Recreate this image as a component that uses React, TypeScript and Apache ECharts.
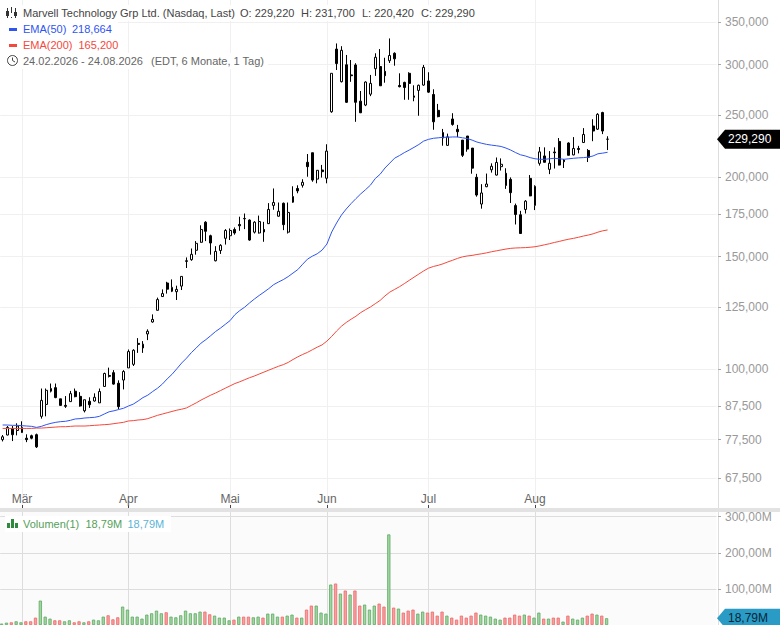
import React, { useEffect, useRef } from "react";
import * as echarts from "echarts";

const FONT = "'Liberation Sans', Arial, sans-serif";

const dates = [
  "24.02.2026","25.02.2026","26.02.2026","27.02.2026",
  "02.03.2026","03.03.2026","04.03.2026","05.03.2026","06.03.2026","09.03.2026","10.03.2026","11.03.2026","12.03.2026","13.03.2026",
  "16.03.2026","17.03.2026","18.03.2026","19.03.2026","20.03.2026","23.03.2026","24.03.2026","25.03.2026","26.03.2026","27.03.2026","30.03.2026","31.03.2026",
  "01.04.2026","02.04.2026","06.04.2026","07.04.2026","08.04.2026","09.04.2026","10.04.2026","13.04.2026","14.04.2026","15.04.2026","16.04.2026","17.04.2026",
  "20.04.2026","21.04.2026","22.04.2026","23.04.2026","24.04.2026","27.04.2026","28.04.2026","29.04.2026","30.04.2026",
  "01.05.2026","04.05.2026","05.05.2026","06.05.2026","07.05.2026","08.05.2026","11.05.2026","12.05.2026","13.05.2026","14.05.2026","15.05.2026",
  "18.05.2026","19.05.2026","20.05.2026","21.05.2026","22.05.2026","26.05.2026","27.05.2026","28.05.2026","29.05.2026",
  "01.06.2026","02.06.2026","03.06.2026","04.06.2026","05.06.2026","08.06.2026","09.06.2026","10.06.2026","11.06.2026","12.06.2026",
  "15.06.2026","16.06.2026","17.06.2026","18.06.2026","22.06.2026","23.06.2026","24.06.2026","25.06.2026","26.06.2026","29.06.2026","30.06.2026",
  "01.07.2026","02.07.2026","06.07.2026","07.07.2026","08.07.2026","09.07.2026","10.07.2026","13.07.2026","14.07.2026","15.07.2026","16.07.2026","17.07.2026",
  "20.07.2026","21.07.2026","22.07.2026","23.07.2026","24.07.2026","27.07.2026","28.07.2026","29.07.2026","30.07.2026","31.07.2026",
  "03.08.2026","04.08.2026","05.08.2026","06.08.2026","07.08.2026","10.08.2026","11.08.2026","12.08.2026","13.08.2026","14.08.2026",
  "17.08.2026","18.08.2026","19.08.2026","20.08.2026","21.08.2026","24.08.2026",
];
const emptySlots = 22;

const monthLabels: Record<string, string> = {
  "02.03.2026": "Mär",
  "01.04.2026": "Apr",
  "01.05.2026": "Mai",
  "01.06.2026": "Jun",
  "01.07.2026": "Jul",
  "03.08.2026": "Aug",
};

const opens = [
  77.5,78.8,80.7,80.1,79.5,77.9,78.6,78.9,84.3,88.0,
  92.3,93.5,89.8,87.7,88.9,92.3,90.6,86.0,89.0,89.1,
  88.5,93.9,97.7,98.7,95.0,96.1,100.4,101.7,109.7,107.9,
  113.5,118.5,123.6,129.9,136.4,132.4,132.2,134.9,147.8,148.4,
  153.5,158.0,169.9,161.8,147.8,153.4,160.3,161.8,165.5,168.5,
  172.2,171.2,163.9,163.4,165.5,169.0,180.5,173.6,181.9,163.9,
  182.6,191.9,194.1,210.9,218.3,198.5,205.1,199.1,253.1,317.4,
  282.1,299.9,289.1,299.7,263.0,259.3,269.7,295.7,298.0,292.9,
  304.3,312.6,278.3,281.4,290.8,268.0,273.4,278.7,282.9,269.4,
  254.4,234.8,224.2,246.6,237.6,228.5,231.9,222.0,199.8,181.4,
  193.1,205.3,201.4,207.6,202.7,198.3,180.4,174.5,177.9,199.0,
  180.5,210.1,215.8,205.6,218.9,227.4,212.6,226.1,216.6,221.7,
  226.5,220.1,240.4,237.7,252.4,229.22,
];
const closes = [
  78.3,81.0,78.9,81.4,81.0,77.5,77.9,75.5,89.3,92.6,
  93.2,90.2,87.7,87.4,91.5,90.5,87.5,89.5,87.9,90.3,
  92.2,98.4,97.4,94.7,87.3,99.1,106.5,107.0,109.3,109.4,
  114.6,119.6,128.5,131.3,133.4,134.3,133.3,139.7,147.5,151.3,
  157.4,165.5,164.4,157.6,152.9,156.3,164.9,164.9,163.4,167.7,
  172.0,159.3,169.9,170.3,164.0,177.9,182.4,176.7,168.4,176.0,
  186.4,190.2,196.2,207.6,197.8,204.9,203.9,219.6,290.8,301.2,
  316.0,261.9,288.3,261.9,252.2,281.8,280.4,308.1,278.0,288.3,
  310.1,306.4,277.1,276.3,280.4,266.7,278.5,297.1,271.7,244.1,
  248.7,230.2,231.2,241.8,235.5,216.3,221.2,206.5,187.4,188.8,
  195.0,207.9,210.8,209.4,194.0,189.0,174.7,163.1,183.3,186.8,
  193.4,219.0,210.9,210.2,218.3,208.8,211.4,216.3,221.7,220.9,
  233.2,214.7,236.1,250.8,236.1,229.29,
];
const highs = [
  78.8,81.4,81.4,82.2,82.8,79.0,78.9,79.2,93.2,93.2,
  94.9,94.9,89.8,90.7,92.4,93.2,92.0,89.5,90.3,91.6,
  93.2,98.7,100.5,99.6,96.0,99.6,107.3,107.4,111.8,110.6,
  115.4,121.8,129.4,133.3,137.0,138.2,135.1,139.7,149.6,154.5,
  158.7,168.0,170.5,162.4,155.8,156.9,165.7,166.1,166.7,173.3,
  175.3,171.6,170.5,174.0,170.1,182.0,191.9,182.4,182.4,182.4,
  193.4,194.1,198.4,217.3,218.3,205.1,208.9,225.1,290.8,323.9,
  320.7,310.7,305.1,301.6,272.8,282.5,289.1,312.6,317.4,307.6,
  329.8,313.7,290.8,282.1,291.9,278.5,279.2,299.7,291.9,274.5,
  260.4,237.9,233.9,251.8,241.4,228.5,231.9,222.0,202.3,194.9,
  202.5,210.1,214.6,213.9,206.4,199.7,181.7,177.0,184.0,201.4,
  194.1,222.9,222.6,219.6,222.6,230.2,213.4,226.7,231.0,223.8,
  238.6,221.2,246.4,251.8,253.1,231.7,
];
const lows = [
  77.0,78.7,77.1,78.7,79.4,76.8,77.6,75.2,83.6,84.3,
  91.9,90.0,87.6,86.9,88.9,90.3,87.3,85.5,86.9,88.9,
  88.5,93.9,97.0,94.5,86.5,92.9,100.4,101.1,106.0,106.0,
  111.0,118.2,123.6,129.7,131.3,132.0,128.3,133.0,144.0,147.8,
  151.1,157.8,158.7,151.1,147.5,151.5,156.7,159.3,162.4,164.7,
  165.7,158.9,163.1,163.1,158.3,168.8,177.7,173.4,165.1,163.1,
  182.2,188.6,192.5,200.2,196.6,195.5,199.6,195.5,252.2,294.3,
  281.4,261.3,282.0,244.1,251.9,258.3,267.8,288.1,278.0,281.1,
  301.8,298.9,276.4,264.3,264.3,262.9,249.5,278.0,271.0,237.2,
  248.1,223.9,223.9,240.7,230.9,215.0,219.1,202.4,186.3,178.4,
  192.8,203.2,201.1,204.7,191.6,182.1,168.5,163.1,175.3,186.6,
  177.5,208.4,210.9,202.1,206.2,208.6,206.6,216.3,216.3,217.8,
  226.3,211.1,227.6,237.0,233.5,220.42,
];

const ema50 = [
  81.7,81.7,81.6,81.6,81.5,81.4,81.3,81.0,81.3,81.8,
  82.2,82.5,82.7,82.8,83.1,83.5,83.6,83.8,83.9,84.0,
  84.3,85.0,85.7,86.0,86.4,86.8,87.5,88.1,89.1,90.2,
  91.0,92.2,93.3,94.7,96.5,98.1,100.1,102.2,104.0,106.1,
  107.9,109.8,111.2,112.8,114.5,115.9,117.5,119.1,121.7,123.5,
  125.0,126.9,128.7,130.4,132.0,133.7,135.6,136.9,138.1,139.6,
  141.4,143.2,146.0,148.7,150.3,151.6,153.6,157.0,164.0,169.4,
  174.3,178.2,181.7,185.0,188.2,191.1,194.2,198.9,202.0,206.6,
  210.3,214.1,216.1,218.4,220.4,222.6,224.9,227.7,229.1,230.0,
  230.4,230.8,230.9,231.1,231.1,230.4,229.8,228.5,226.9,225.9,
  225.0,224.4,223.9,223.3,222.0,220.4,218.4,216.7,215.8,214.5,
  213.6,213.2,213.2,213.6,214.0,213.6,213.2,213.6,214.0,214.3,
  214.5,214.9,215.8,217.5,218.0,218.664,
];
const ema200 = [
  80.7,80.7,80.7,80.7,80.7,80.7,80.7,80.8,80.8,80.9,
  81.0,81.1,81.2,81.2,81.3,81.4,81.4,81.4,81.5,81.6,
  81.7,81.8,81.9,82.1,82.3,82.5,82.9,83.0,83.2,83.3,
  83.6,84.1,84.6,85.0,85.4,85.8,86.2,86.5,86.9,87.7,
  88.5,89.4,90.2,91.0,91.7,92.5,93.3,94.1,94.9,95.5,
  96.2,96.9,97.5,98.2,98.9,99.6,100.3,101.0,101.6,102.4,
  103.5,104.5,105.4,106.2,107.2,108.2,109.1,110.6,112.5,114.7,
  116.7,118.3,119.7,121.0,122.6,123.9,125.1,126.6,128.1,130.2,
  132.0,133.3,134.6,136.1,137.7,139.3,140.9,142.5,143.9,144.8,
  145.4,146.2,147.2,148.1,149.1,149.9,150.4,150.7,151.2,151.6,
  152.1,152.7,153.2,153.7,154.2,154.6,154.8,154.9,155.0,155.2,
  155.5,156.0,156.6,157.2,157.9,158.5,159.2,159.8,160.3,160.9,
  161.6,162.2,162.9,163.9,164.7,165.2,
];

const volumes = [
  4,6.5,7.4,10.2,7.4,10.2,10.2,20.4,67.6,23.1,
  17.6,13,13,10.2,13,7.4,10.2,7.4,10.2,14.8,
  13,23.1,26.9,15.7,21.3,50.9,42.6,23.1,23.1,17.6,
  28.7,32.4,39.8,32.4,35.2,23.1,21.3,26.9,39.8,32.4,
  32.4,37,37,29.6,25.9,20.4,20.4,13,14.8,23.1,
  23.1,23.1,21.3,23.1,20.4,31.5,31.5,23.1,23.1,25.9,
  28.7,20.4,20.4,42.6,53.7,53.7,34.3,31.5,112,114.8,
  87,95.4,84.3,95.4,53.7,56.5,42.6,53.7,59.3,50.9,
  250.9,48.1,45.4,34.3,39.8,42.6,31.5,37,34.3,37,
  25.9,37,25.9,20.4,14.8,25.9,20.4,25.9,34.3,28.7,
  25.9,23.1,17.6,14.8,20.4,20.4,28.7,25.9,28.7,25.9,
  20.4,34.3,17.6,17.6,20.4,20.4,9.3,25.9,17.6,14.8,
  20.4,25.9,31.5,28.7,25.9,18.79,
];
const volumeSides = (
  "GGRGGRRRGG" + "GRRGGRRGRG" + "GGRRRGGGGG" + "GGGGRGGGGG" + "GGRRGGGGRG" +
  "RRGGRGGGRG" + "GRGRRGGGGR" + "GRGRRGGGRR" + "GRGRRRGGRR" + "RRGRRRRRRG" +
  "GGGGRRRRGR" + "GGRGRRGRGG" + "GRRGRG"
).split("");

const priceTicks = [350, 300, 250, 200, 175, 150, 125, 100, 87.5, 77.5, 67.5];
const volumeTicks = [100, 200, 300];

const lastClose = 229.29;
const lastVolume = 18.79;

const isMonthStart = (_i: number, value: string) => value in monthLabels;

const App = () => {
  const ref = useRef<HTMLDivElement>(null);
  useEffect(() => {
    if (!ref.current) return;
    const chart = echarts.init(ref.current, undefined, { renderer: "svg" });
    const categories = [...dates, ...Array.from({ length: emptySlots }, () => "")];
    const t = (x: number, y: number, text: string, fill: string, extra: any = {}) => ({
      type: "text", x, y, z: 20, silent: true,
      style: { text, fill, font: `11px ${FONT}`, textVerticalAlign: "middle", ...extra },
    });
    const whiteRect = (x: number, y: number, width: number, height: number) => ({
      type: "rect", z: 15, silent: true, shape: { x, y, width, height }, style: { fill: "#fff" },
    });
    const hLine = (x1: number, y1: number, x2: number, y2: number, stroke: string, lineWidth = 1) => ({
      type: "line", z: 20, silent: true, shape: { x1, y1, x2, y2 }, style: { stroke, lineWidth },
    });
    const iconRect = (x: number, y: number, width: number, height: number, fill: string) => ({
      type: "rect", z: 20, silent: true, shape: { x, y, width, height }, style: { fill },
    });

    chart.setOption({
      animation: false,
      backgroundColor: "#fff",
      grid: [
        { left: 0.2, top: 0, width: 716.3, height: 508, containLabel: false },
        { left: 0.2, top: 512, width: 716.3, height: 113, containLabel: false, show: true, backgroundColor: "#fbfbfb", borderWidth: 0 },
      ],
      xAxis: [
        {
          type: "category", gridIndex: 0, data: categories,
          axisLine: { show: false },
          axisTick: { show: true, inside: true, length: 3, interval: isMonthStart, alignWithLabel: true, lineStyle: { color: "#444" } },
          axisLabel: {
            show: true, inside: true, interval: isMonthStart, margin: 3,
            formatter: (v: string) => monthLabels[v] ?? "",
            color: "#666", fontSize: 12, fontFamily: FONT, hideOverlap: false,
          },
          splitLine: { show: true, interval: isMonthStart, alignWithLabel: true, lineStyle: { color: "#f0f0f0", width: 1 } },
        },
        {
          type: "category", gridIndex: 1, data: categories,
          axisLine: { show: false }, axisTick: { show: false }, axisLabel: { show: false },
          splitLine: { show: true, interval: isMonthStart, alignWithLabel: true, lineStyle: { color: "#dddddd", width: 1 } },
        },
      ],
      yAxis: [
        {
          type: "log", logBase: 10, gridIndex: 0, position: "right", offset: 1.5, min: 60.55, max: 378.9,
          axisLine: { show: true, onZero: false, lineStyle: { color: "#dddddd" } },
          axisTick: { show: true, length: 3, customValues: priceTicks, lineStyle: { color: "#aaaaaa" } },
          axisLabel: {
            show: true, margin: 7, customValues: priceTicks,
            formatter: (v: number) => v.toFixed(3).replace(".", ","),
            color: "#999", fontSize: 12, fontFamily: FONT,
          },
          splitLine: { show: true, customValues: priceTicks, lineStyle: { color: "#f0f0f0", width: 1 } },
        },
        {
          type: "value", gridIndex: 1, position: "right", offset: 1.5, min: 0, max: 313,
          axisLine: { show: true, onZero: false, lineStyle: { color: "#dddddd" } },
          axisTick: { show: true, length: 3, customValues: volumeTicks, lineStyle: { color: "#aaaaaa" } },
          axisLabel: {
            show: true, margin: 7, customValues: volumeTicks, padding: [0, 0, 3, 0],
            formatter: (v: number) => `${v},00M`,
            color: "#999", fontSize: 12, fontFamily: FONT,
          },
          splitLine: { show: true, customValues: volumeTicks, lineStyle: { color: "#dddddd", width: 1 } },
        },
      ],
      series: [
        {
          type: "candlestick", xAxisIndex: 0, yAxisIndex: 0, barWidth: 2.4, z: 3,
          itemStyle: { color: "#ffffff", color0: "#000000", borderColor: "#000000", borderColor0: "#000000", borderWidth: 1 },
          data: opens.map((o, i) => [o, closes[i], lows[i], highs[i]]),
        },
        {
          type: "line", xAxisIndex: 0, yAxisIndex: 0, data: ema200, showSymbol: false, symbol: "none", z: 4,
          lineStyle: { color: "#f4483c", width: 1 },
        },
        {
          type: "line", xAxisIndex: 0, yAxisIndex: 0, data: ema50, showSymbol: false, symbol: "none", z: 5,
          lineStyle: { color: "#2f55f0", width: 1 },
        },
        {
          type: "bar", xAxisIndex: 1, yAxisIndex: 1, barWidth: 3.2, barGap: "0%",
          data: volumes.map((v, i) => ({
            value: v,
            itemStyle: volumeSides[i] === "G"
              ? { color: "#a1d6a1", borderColor: "#5fa863", borderWidth: 0.8 }
              : { color: "#f7a0a0", borderColor: "#ee6a6a", borderWidth: 0.8 },
          })),
        },
        // empty companion: its slot nudges the volume bars one pixel left of the candles, as in the reference
        { type: "bar", xAxisIndex: 1, yAxisIndex: 1, barWidth: 2, barGap: "0%", data: [] },
      ],
    });

    const priceY = chart.convertToPixel({ yAxisIndex: 0 }, lastClose) as number;
    const volY = chart.convertToPixel({ yAxisIndex: 1 }, lastVolume) as number;
    const tag = (y: number, fill: string) => ({
      type: "polygon", z: 20, silent: true,
      shape: { points: [[717, y], [725, y - 9.5], [780, y - 9.5], [780, y + 9.5], [725, y + 9.5]] },
      style: { fill },
    });

    chart.setOption({
      graphic: [
        // separator band between the panels
        { type: "rect", z: 10, silent: true, shape: { x: 0, y: 508, width: 780, height: 4 }, style: { fill: "#e2e2e2" } },
        // legend back plates
        whiteRect(0, 5, 478, 16), whiteRect(0, 21, 118, 16), whiteRect(0, 37, 122, 16), whiteRect(0, 53, 268, 16),
        whiteRect(5, 516, 166, 16),
        // candle icon
        hLine(7.5, 8, 7.5, 18, "#333"), iconRect(6, 11, 3, 5, "#333"),
        hLine(11.5, 7, 11.5, 18, "#333"), iconRect(10, 13, 3, 4, "#fff"),
        hLine(15.5, 8, 15.5, 18, "#333"), iconRect(14, 12, 3, 4, "#333"),
        // header
        t(23, 13, "Marvell Technology Grp Ltd. (Nasdaq, Last)", "#444"),
        t(240, 13, "O: 229,220", "#444"),
        t(301, 13, "H: 231,700", "#444"),
        t(362, 13, "L: 220,420", "#444"),
        t(421, 13, "C: 229,290", "#444"),
        iconRect(9, 28, 8, 3, "#2f55f0"),
        t(23, 29, "EMA(50)", "#2f55f0"), t(72, 29, "218,664", "#2f55f0"),
        iconRect(9, 44, 8, 3, "#f4483c"),
        t(23, 45, "EMA(200)", "#f4483c"), t(78.5, 45, "165,200", "#f4483c"),
        // clock icon
        { type: "circle", z: 20, silent: true, shape: { cx: 12.5, cy: 60.5, r: 5 }, style: { fill: "none", stroke: "#444", lineWidth: 1 } },
        { type: "polyline", z: 20, silent: true, shape: { points: [[12.5, 57.5], [12.5, 60.5], [15, 62]] }, style: { fill: "none", stroke: "#444", lineWidth: 1 } },
        t(23, 61, "24.02.2026 - 24.08.2026", "#666"),
        t(151, 61, "(EDT, 6 Monate, 1 Tag)", "#666"),
        // volume legend
        iconRect(7, 523, 3, 5, "#2e8b3e"), iconRect(11, 519, 3, 9, "#2e8b3e"), iconRect(15, 523, 3, 5, "#2e8b3e"),
        t(23, 524, "Volumen(1)", "#55a05a"),
        t(85.5, 524, "18,79M", "#55a05a"),
        t(127.5, 524, "18,79M", "#5cb3d6"),
        // last value tags
        tag(priceY, "#000000"),
        t(728, priceY, "229,290", "#ffffff", { font: `12px ${FONT}` }),
        tag(volY, "#2a9bc4"),
        t(728, volY, "18,79M", "#06263a", { font: `12px ${FONT}` }),
      ],
    });
    return () => chart.dispose();
  }, []);
  return <div ref={ref} style={{ position: "fixed", left: 0, top: 0, width: 780, height: 625 }} />;
};

export default App;
